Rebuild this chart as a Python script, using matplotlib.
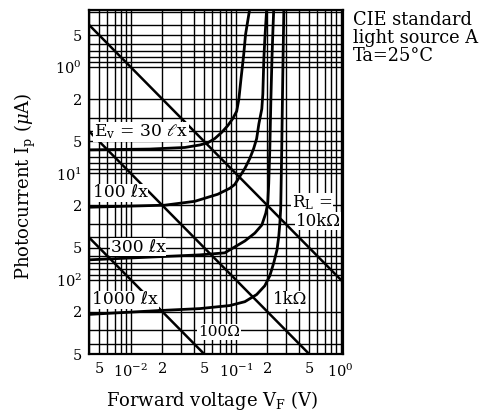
import matplotlib
matplotlib.use('Agg')
import matplotlib.pyplot as plt
from matplotlib.ticker import LogLocator, NullFormatter
import numpy as np

plt.rcParams['font.family'] = ['DejaVu Serif', 'DejaVu Sans']
plt.rcParams['mathtext.fontset'] = 'dejavuserif'

# ---- data (forward voltage V, photocurrent uA) ----
E30_V = [0.004, 0.0152, 0.0327, 0.0454, 0.0541, 0.0631, 0.0736, 0.0839, 0.0936, 0.102, 0.107, 0.112, 0.119, 0.124, 0.136]
E30_I = [6.0, 5.9, 5.7, 5.4, 5.15, 4.7, 4.1, 3.55, 3.05, 2.6, 2.0, 1.3, 0.76, 0.49, 0.28]

E100_V = [0.004, 0.0211, 0.0407, 0.0674, 0.0877, 0.0978, 0.109, 0.122, 0.136, 0.148, 0.158, 0.166, 0.177, 0.181, 0.185, 0.189, 0.197]
E100_I = [20.8, 19.9, 18.3, 15.7, 13.8, 12.7, 10.7, 8.98, 7.24, 5.84, 4.71, 3.41, 2.47, 1.79, 0.84, 0.55, 0.28]

E300_V = [0.004, 0.0454, 0.0785, 0.122, 0.152, 0.177, 0.193, 0.2017, 0.206, 0.211, 0.216, 0.221, 0.226, 0.230]
E300_I = [65, 58.4, 55.9, 43.2, 36.4, 30.6, 23.7, 19.1, 12.4, 5.84, 1.99, 0.84, 0.44, 0.28]

E1000_V = [0.004, 0.0188, 0.0454, 0.0877, 0.122, 0.158, 0.189, 0.211, 0.230, 0.247, 0.257, 0.263, 0.268, 0.274, 0.280, 0.287]
E1000_I = [212, 195, 187, 175, 161, 138, 114, 91.8, 69.3, 52.4, 38.8, 29.3, 21.2, 5.84, 1.29, 0.28]

# load lines (end points)
RL100_V = [0.004, 0.05]
RL100_I = [40, 500]
RL1k_V = [0.004, 0.5]
RL1k_I = [4, 500]
RL10k_V = [0.004, 1.05]
RL10k_I = [0.4, 105]

xticks = [0.005, 0.01, 0.02, 0.05, 0.1, 0.2, 0.5, 1.0]
xticklabels = ['5', r'$10^{-2}$', '2', '5', r'$10^{-1}$', '2', '5', r'$10^{0}$']
yticks = [0.5, 1, 2, 5, 10, 20, 50, 100, 200, 500]
yticklabels = ['5', r'$10^{0}$', '2', '5', r'$10^{1}$', '2', '5', r'$10^{2}$', '2', '5']

fig = plt.figure(figsize=(4.81, 4.16), dpi=100)
ax = fig.add_axes([89/481, 1-354/416, 254/481, 344/416])
ax.set_xscale('log')
ax.set_yscale('log')
ax.set_xlim(0.004, 1.05)
ax.set_ylim(500, 0.29)

ax.xaxis.set_minor_locator(LogLocator(base=10, subs=np.arange(2, 10), numticks=20))
ax.yaxis.set_minor_locator(LogLocator(base=10, subs=np.arange(2, 10), numticks=20))
ax.xaxis.set_minor_formatter(NullFormatter())
ax.yaxis.set_minor_formatter(NullFormatter())
ax.set_xticks(xticks)
ax.set_xticklabels(xticklabels)
ax.set_yticks(yticks)
ax.set_yticklabels(yticklabels)
ax.tick_params(which='both', length=0)
ax.tick_params(axis='x', pad=6, labelsize=10.5)
ax.tick_params(axis='y', pad=5, labelsize=10.5)
ax.grid(which='both', color='black', lw=1.0)
ax.set_axisbelow(True)
for s in ax.spines.values():
    s.set_linewidth(1.6)

ck = dict(color='black', lw=2.0, solid_capstyle='butt', solid_joinstyle='round')
for V, I in [(E30_V, E30_I), (E100_V, E100_I), (E300_V, E300_I), (E1000_V, E1000_I)]:
    ax.plot(V, I, **ck)
for V, I in [(RL100_V, RL100_I), (RL1k_V, RL1k_I), (RL10k_V, RL10k_I)]:
    ax.plot(V, I, color='black', lw=1.8)

bb = dict(facecolor='white', edgecolor='none', pad=0.6)
def lab(px, py, s, size=12.3):
    ax.text((px-89)/254, 1-(py-10)/344, s, transform=ax.transAxes, ha='center', va='center',
            fontsize=size, bbox=bb, zorder=5)

lab(141, 132, r'E$_\mathrm{v}$ = 30 $\ell$x')
lab(120, 193, '100 ℓx')
lab(138, 247, '300 ℓx')
lab(125, 300, '1000 ℓx')
lab(219, 332, '100Ω', 11)
lab(290, 300, '1kΩ', 12)
lab(312, 203, r'R$_\mathrm{L}$ =', 12)
lab(318, 221, '10kΩ', 12)

fig.text(353/481, 1-11/416, 'CIE standard\nlight source A\nTa=25°C', ha='left', va='top',
         fontsize=12.8, linespacing=1.0)
fig.text(212/481, 1-400/416, r'Forward voltage V$_\mathrm{F}$ (V)', ha='center', va='center', fontsize=13)
fig.text(25/481, 1-186/416, r'Photocurrent I$_\mathrm{p}$ ($\mu$A)', ha='center', va='center',
         rotation=90, fontsize=13)

fig.savefig('out.png', dpi=100)
